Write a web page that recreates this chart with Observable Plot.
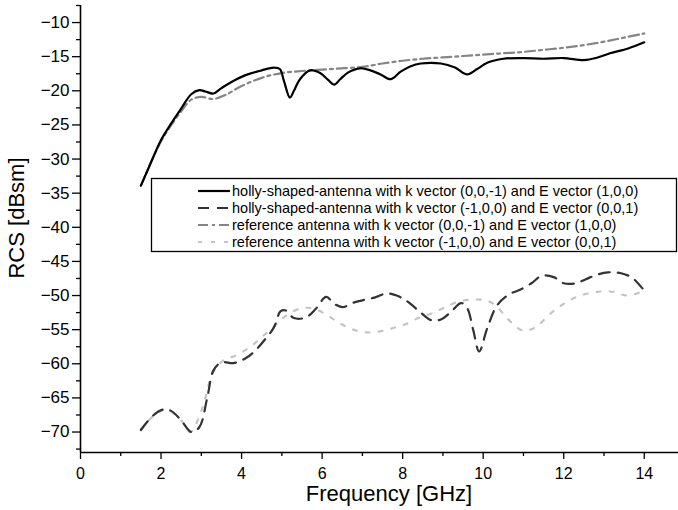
<!DOCTYPE html>
<html>
<head>
<meta charset="utf-8">
<script src="https://cdn.jsdelivr.net/npm/d3@7"></script>
<script src="https://cdn.jsdelivr.net/npm/@observablehq/plot@0.6"></script>
<style>
  html, body { margin: 0; padding: 0; background: #fff; }
  #chart { width: 678px; height: 510px; }
</style>
</head>
<body>
<div id="chart"></div>
<script>
// Series names (legend labels)
const seriesNames = [
  "holly-shaped-antenna with k vector (0,0,-1) and E vector (1,0,0)",
  "holly-shaped-antenna with k vector (-1,0,0) and E vector (0,0,1)",
  "reference antenna with k vector (0,0,-1) and E vector (1,0,0)",
  "reference antenna with k vector (-1,0,0) and E vector (0,0,1)"
];

// Series 1: holly-shaped, k (0,0,-1)
const f1 = [1.5, 1.75, 2.0, 2.25, 2.5, 2.75, 2.95, 3.1, 3.3, 3.5, 3.75, 4.1, 4.5, 4.8, 4.95, 5.05, 5.2, 5.3, 5.45, 5.7, 5.95, 6.15, 6.3, 6.45, 6.65, 6.95, 7.2, 7.45, 7.7, 7.95, 8.2, 8.45, 8.95, 9.3, 9.6, 9.85, 10.1, 10.5, 11.0, 11.5, 12.0, 12.5, 12.8, 13.15, 13.6, 14.0];
const v1 = [-33.9, -30.5, -27.2, -24.8, -22.6, -20.5, -19.9, -20.1, -20.4, -19.6, -18.7, -17.7, -17.0, -16.6, -16.8, -18.5, -21.0, -20.0, -18.3, -17.0, -17.4, -18.4, -19.1, -18.3, -17.3, -16.7, -17.0, -17.6, -18.3, -17.2, -16.4, -16.0, -16.0, -16.6, -17.6, -16.8, -15.9, -15.3, -15.2, -15.3, -15.2, -15.5, -15.2, -14.5, -13.8, -12.9];

// Series 2: holly-shaped, k (-1,0,0)
const f2 = [1.5, 1.8, 2.05, 2.25, 2.5, 2.75, 2.95, 3.15, 3.3, 3.5, 3.8, 4.1, 4.35, 4.6, 4.8, 4.97, 5.1, 5.3, 5.6, 5.85, 6.1, 6.3, 6.5, 6.8, 7.0, 7.3, 7.6, 7.85, 8.1, 8.45, 8.7, 8.95, 9.2, 9.45, 9.6, 9.75, 9.9, 10.1, 10.35, 10.65, 10.9, 11.2, 11.45, 11.75, 12.0, 12.3, 12.55, 12.85, 13.1, 13.4, 13.7, 14.0];
const v2 = [-69.7, -67.6, -66.7, -66.9, -68.3, -70.0, -69.3, -64.9, -61.0, -59.8, -59.9, -59.2, -58.0, -56.3, -54.7, -52.3, -52.2, -53.3, -53.2, -51.9, -50.2, -51.2, -51.7, -51.0, -50.7, -50.3, -49.7, -50.0, -50.8, -52.5, -53.6, -53.5, -52.4, -51.1, -51.8, -55.0, -58.2, -54.8, -51.4, -49.8, -49.2, -48.2, -47.1, -47.3, -48.2, -48.2, -47.6, -46.9, -46.6, -46.7, -47.4, -49.3];

// Series 3: reference, k (0,0,-1)
const f3 = [1.5, 2.0, 2.5, 2.75, 3.0, 3.3, 3.6, 4.0, 4.5, 5.0, 5.5, 6.0, 6.5, 7.0, 7.5, 8.0, 8.5, 9.0, 9.5, 10.0, 10.5, 11.0, 11.5, 12.0, 12.5, 13.0, 13.5, 14.0];
const v3 = [-33.9, -27.4, -23.0, -21.3, -20.9, -21.2, -20.6, -19.3, -18.1, -17.4, -17.1, -16.9, -16.7, -16.5, -16.0, -15.6, -15.3, -15.1, -14.9, -14.7, -14.5, -14.3, -14.0, -13.7, -13.3, -12.8, -12.2, -11.6];

// Series 4: reference, k (-1,0,0)
const f4 = [1.5, 1.78, 2.06, 2.3, 2.5, 2.73, 2.98, 3.1, 3.28, 3.55, 3.85, 4.2, 4.5, 4.83, 5.12, 5.46, 5.78, 6.13, 6.45, 6.77, 7.1, 7.4, 7.74, 8.07, 8.39, 8.73, 9.06, 9.38, 9.72, 10.05, 10.3, 10.62, 10.97, 11.29, 11.62, 11.95, 12.28, 12.6, 12.95, 13.27, 13.57, 13.9, 14.0];
const v4 = [-69.7, -67.8, -66.8, -67.2, -68.3, -70.0, -67.2, -65.0, -61.4, -59.5, -58.8, -57.6, -56.1, -54.4, -52.9, -51.9, -51.9, -52.9, -54.1, -55.0, -55.4, -55.3, -54.8, -54.2, -53.3, -52.6, -51.7, -50.9, -50.6, -50.7, -51.4, -53.5, -55.1, -54.7, -52.9, -51.4, -50.3, -49.7, -49.4, -49.5, -50.0, -49.5, -49.1];

// Tick values
const xMajorTicks = [0, 2, 4, 6, 8, 10, 12, 14];
const xMinorTicks = [1, 3, 5, 7, 9, 11, 13];
const yMajorTicks = [-70, -65, -60, -55, -50, -45, -40, -35, -30, -25, -20, -15, -10];
const yMinorTicks = [-72.5, -67.5, -62.5, -57.5, -52.5, -47.5, -42.5, -37.5, -32.5, -27.5, -22.5, -17.5, -12.5, -7.5];

const xDomain = [0, 14.85];
const yDomain = [-73, -7.5];

const toRows = (fs, vs) => fs.map((f, i) => ({f, v: vs[i]}));
const d1 = toRows(f1, v1), d2 = toRows(f2, v2), d3r = toRows(f3, v3), d4 = toRows(f4, v4);

const styles = [
  {stroke: "#000000", strokeWidth: 2.2, dash: null},
  {stroke: "#333333", strokeWidth: 2.2, dash: "11,8"},
  {stroke: "#858585", strokeWidth: 2.2, dash: "10,4,3,4"},
  {stroke: "#c4c4c4", strokeWidth: 2.2, dash: "4,9"}
];

const font = "'Liberation Sans', Arial, sans-serif";

const plot = Plot.plot({
  width: 678,
  height: 510,
  marginLeft: 80,
  marginRight: 0,
  marginTop: 5,
  marginBottom: 58,
  style: {fontFamily: font, background: "#fff", overflow: "visible"},
  x: {domain: xDomain},
  y: {domain: yDomain},
  marks: [
    Plot.axisX({ticks: xMajorTicks, tickSize: 7, tickPadding: 8, fontSize: 16, label: null, stroke: "#000", strokeWidth: 1.3, color: "#000"}),
    Plot.axisX({ticks: xMinorTicks, tickSize: 4, tickFormat: () => "", label: null, stroke: "#000", strokeWidth: 1.3}),
    Plot.axisY({ticks: yMajorTicks, tickSize: 8, tickPadding: 3, fontSize: 17, label: null, stroke: "#000", strokeWidth: 1.3, color: "#000"}),
    Plot.axisY({ticks: yMinorTicks, tickSize: 4, tickFormat: () => "", label: null, stroke: "#000", strokeWidth: 1.3}),
    Plot.ruleX([xDomain[0]], {stroke: "#000", strokeWidth: 1.6}),
    Plot.ruleY([yDomain[0]], {stroke: "#000", strokeWidth: 1.6}),
    Plot.line(d4, {x: "f", y: "v", stroke: styles[3].stroke, strokeWidth: styles[3].strokeWidth, strokeDasharray: styles[3].dash, curve: "catmull-rom"}),
    Plot.line(d3r, {x: "f", y: "v", stroke: styles[2].stroke, strokeWidth: styles[2].strokeWidth, strokeDasharray: styles[2].dash, curve: "catmull-rom"}),
    Plot.line(d2, {x: "f", y: "v", stroke: styles[1].stroke, strokeWidth: styles[1].strokeWidth, strokeDasharray: styles[1].dash, curve: "catmull-rom"}),
    Plot.line(d1, {x: "f", y: "v", stroke: styles[0].stroke, strokeWidth: styles[0].strokeWidth, curve: "catmull-rom"})
  ]
});

document.getElementById("chart").appendChild(plot);

// Axis titles and legend
const svg = d3.select(plot);
svg.append("text")
  .attr("x", 389).attr("y", 501)
  .attr("text-anchor", "middle")
  .attr("font-family", font).attr("font-size", 22).attr("fill", "#000")
  .text("Frequency [GHz]");
svg.append("text")
  .attr("transform", "translate(24,218) rotate(-90)")
  .attr("text-anchor", "middle")
  .attr("font-family", font).attr("font-size", 22).attr("fill", "#000")
  .text("RCS [dBsm]");

const lg = svg.append("g").attr("text-anchor", "start");
lg.append("rect")
  .attr("x", 151.5).attr("y", 178.5).attr("width", 525).attr("height", 73)
  .attr("fill", "#fff").attr("stroke", "#000").attr("stroke-width", 1.3);
const rowY = [191, 208, 225, 242];
seriesNames.forEach((name, i) => {
  const s = styles[i];
  lg.append("line")
    .attr("x1", 198).attr("x2", 230).attr("y1", rowY[i]).attr("y2", rowY[i])
    .attr("stroke", s.stroke).attr("stroke-width", s.strokeWidth)
    .attr("stroke-dasharray", s.dash);
  lg.append("text")
    .attr("x", 232).attr("y", rowY[i]).attr("dy", "0.35em")
    .attr("text-anchor", "start")
    .attr("font-family", font).attr("font-size", 14.5).attr("fill", "#000")
    .text(name);
});
</script>
</body>
</html>
